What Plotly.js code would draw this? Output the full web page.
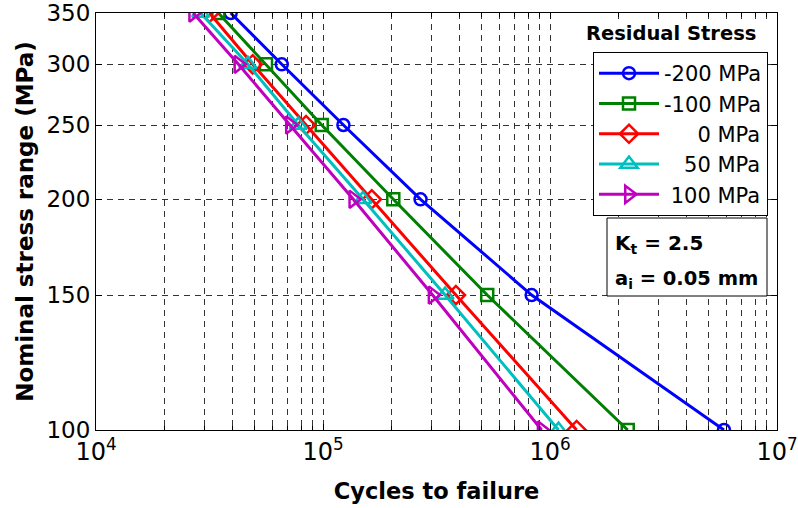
<!DOCTYPE html>
<html>
<head>
<meta charset="utf-8">
<script src="https://cdn.plot.ly/plotly-3.0.1.min.js"></script>
<style>html,body{margin:0;padding:0;background:#fff;}</style>
</head>
<body>
<div id="chart" style="width:798px;height:508px;"></div>
<script>
// Data
var stress = [350, 300, 250, 200, 150, 100];
var cyclesM200 = [3.92e4, 6.58e4, 1.23e5, 2.69e5, 8.3e5, 5.84e6];
var cyclesM100 = [3.46e4, 5.61e4, 9.87e4, 2.04e5, 5.29e5, 2.2e6];
var cycles0    = [3.16e4, 4.9e4, 8.42e4, 1.64e5, 3.85e5, 1.31e6];
var cycles50   = [2.89e4, 4.67e4, 7.78e4, 1.50e5, 3.45e5, 1.09e6];
var cycles100  = [2.68e4, 4.24e4, 7.15e4, 1.36e5, 3.04e5, 9.19e5];
var seriesNames = ['-200 MPa', '-100 MPa', '0 MPa', '50 MPa', '100 MPa'];
var yTicks = [100, 150, 200, 250, 300, 350];
var xDecades = [1e4, 1e5, 1e6, 1e7];
var xDecadeLabels = ['10<sup>4</sup>', '10<sup>5</sup>', '10<sup>6</sup>', '10<sup>7</sup>'];

var FONT = 'DejaVu Sans, sans-serif';
var NB = '\u00a0';
function pad(n){ return NB.repeat(n); }
var legendNames = [seriesNames[0], seriesNames[1], pad(5) + seriesNames[2], pad(3) + seriesNames[3], pad(1) + seriesNames[4]];

var series = [cyclesM200, cyclesM100, cycles0, cycles50, cycles100];
var colors = ['#0000FF', '#008000', '#FF0000', '#00BFBF', '#BF00BF'];
var symbols = ['circle-open', 'square-open', 'diamond-open', 'triangle-up-open', 'triangle-right-open'];
var msizes = [12, 12, 14, 15, 15];

var traces = series.map(function(s, i){
  return {
    x: s, y: stress, type: 'scatter', mode: 'lines+markers',
    name: legendNames[i],
    line: {color: colors[i], width: 3},
    marker: {symbol: symbols[i], size: msizes[i], color: colors[i], line: {color: colors[i], width: 2.5}}
  };
});

// minor log grid positions (2..9 x each decade)
var xMinor = [];
[1e4, 1e5, 1e6].forEach(function(d){ for (var k = 2; k < 10; k++) xMinor.push(k * d); });

var W = 798, H = 508, L = 96, R = 21, T = 13, B = 78;
var pw = W - L - R, ph = H - T - B;
function px(xp){ return (xp - L) / pw; }
function py(yp){ return 1 - (yp - T) / ph; }

var GRID = '#333', DASH = '6px,5px';
var layout = {
  width: W, height: H,
  margin: {l: L, r: R, t: T, b: B},
  paper_bgcolor: '#fff', plot_bgcolor: '#fff',
  font: {family: FONT, color: '#000'},
  showlegend: true,
  xaxis: {
    type: 'log', range: [4 - 1e-9, 7 + 1e-9],
    tickmode: 'array', tickvals: xDecades, ticktext: xDecadeLabels,
    ticks: 'inside', ticklen: 6, tickcolor: '#000', tickwidth: 1,
    showline: true, linecolor: '#000', linewidth: 1, mirror: 'allticks',
    showgrid: true, gridcolor: GRID, gridwidth: 1, griddash: DASH,
    minor: {tickmode: 'array', tickvals: xMinor, ticks: 'inside', ticklen: 4, tickcolor: '#000',
            showgrid: true, gridcolor: GRID, gridwidth: 1, griddash: DASH},
    zeroline: false, ticklabeloverflow: 'allow',
    tickfont: {family: FONT, size: 24, color: '#000'},
    title: {text: '<b>Cycles to failure</b>', font: {family: FONT, size: 22.5, color: '#000'}, standoff: 18}
  },
  yaxis: {
    type: 'log', range: [Math.log10(100) - 1e-9, Math.log10(350) + 1e-9],
    tickmode: 'array', tickvals: yTicks, ticktext: yTicks.map(String),
    ticks: 'inside', ticklen: 6, tickcolor: '#000', tickwidth: 1,
    showline: true, linecolor: '#000', linewidth: 1, mirror: 'allticks',
    showgrid: true, gridcolor: GRID, gridwidth: 1, griddash: DASH,
    zeroline: false, ticklabeloverflow: 'allow',
    tickfont: {family: FONT, size: 23, color: '#000'},
    title: {text: '<b>Nominal stress range (MPa)</b>', font: {family: FONT, size: 23, color: '#000'}, standoff: 6}
  },
  legend: {
    x: px(768), xanchor: 'right', y: py(52), yanchor: 'top',
    bgcolor: '#fff', bordercolor: '#000', borderwidth: 1,
    font: {family: FONT, size: 21, color: '#000'},
    itemwidth: 60
  },
  shapes: [
    {type: 'rect', xref: 'paper', yref: 'paper', x0: px(582), x1: px(771), y0: py(52), y1: py(19),
     fillcolor: '#fff', line: {width: 0}, layer: 'above'},
    {type: 'rect', xref: 'paper', yref: 'paper', x0: px(607), x1: px(767), y0: py(296), y1: py(218),
     fillcolor: '#fff', line: {color: '#000', width: 1}, layer: 'above'}
  ],
  annotations: [
    {text: '<b>Residual Stress</b>', xref: 'paper', yref: 'paper', x: px(671), y: py(33),
     xanchor: 'center', yanchor: 'middle', showarrow: false, font: {family: FONT, size: 19.5, color: '#000'}},
    {text: '<b>K<sub>t</sub> = 2.5</b>', xref: 'paper', yref: 'paper', x: px(613), y: py(244),
     xanchor: 'left', yanchor: 'middle', showarrow: false, font: {family: FONT, size: 20, color: '#000'}},
    {text: '<b>a<sub>i</sub> = 0.05 mm</b>', xref: 'paper', yref: 'paper', x: px(613), y: py(279),
     xanchor: 'left', yanchor: 'middle', showarrow: false, font: {family: FONT, size: 19.5, color: '#000'}}
  ]
};

Plotly.newPlot('chart', traces, layout, {displayModeBar: false, staticPlot: true});
</script>
</body>
</html>
